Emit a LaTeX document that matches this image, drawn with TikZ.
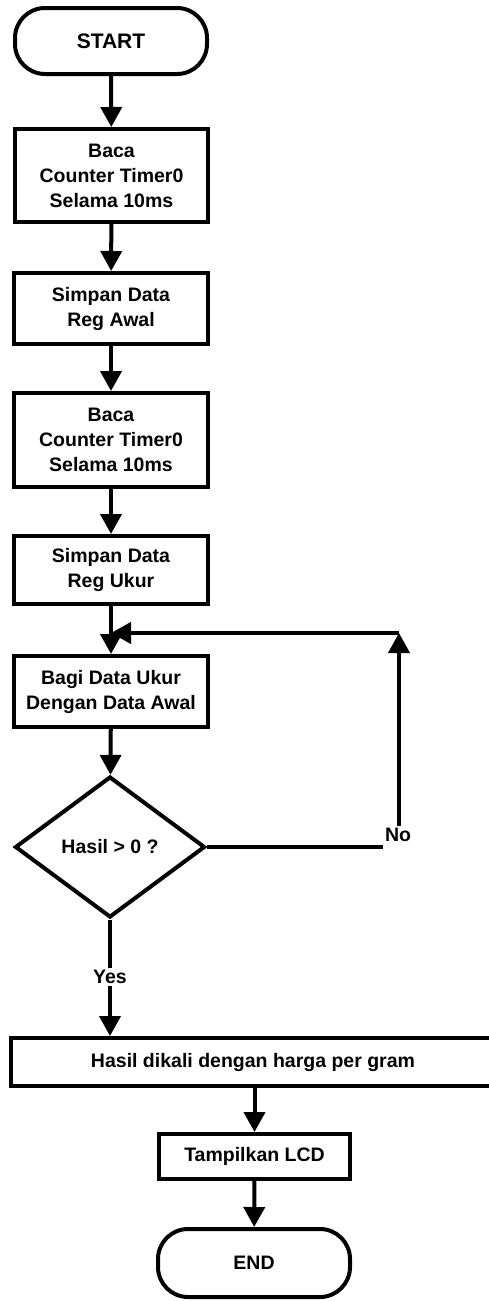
\documentclass[tikz,border=0pt]{standalone}
\usepackage{fontspec}
\setmainfont{Liberation Sans}
\usetikzlibrary{arrows.meta,shapes.geometric}
\begin{document}
\begin{tikzpicture}[x=1pt,y=-1pt,
  every node/.style={font=\fontsize{19.5}{25}\selectfont\bfseries, align=center, inner sep=0pt},
  box/.style={draw, line width=4pt, rectangle},
  term/.style={draw, line width=4pt, rectangle, rounded corners=30pt},
  dec/.style={draw, line width=4pt, diamond},
  lbl/.style={inner sep=2pt},
  flow/.style={line width=4pt, -{Triangle[length=20pt,width=21pt]}},
  plain/.style={line width=4pt}]
\useasboundingbox (0,0) rectangle (488,1301);
\node[term, minimum width=192pt, minimum height=66pt, font=\fontsize{21}{25}\selectfont\bfseries] (start) at (111,41) {START};
\node[box, minimum width=193pt, minimum height=93pt] (b1) at (111.5,175.5) {Baca\\Counter Timer0\\Selama 10ms};
\node[box, minimum width=194pt, minimum height=71pt] (b2) at (111,308.5) {Simpan Data\\Reg Awal};
\node[box, minimum width=194pt, minimum height=94pt] (b3) at (111,440) {Baca\\Counter Timer0\\Selama 10ms};
\node[box, minimum width=194pt, minimum height=68pt] (b4) at (111,570) {Simpan Data\\Reg Ukur};
\node[box, minimum width=194pt, minimum height=71pt] (b5) at (111,691.5) {Bagi Data Ukur\\Dengan Data Awal};
\node[dec, minimum width=190pt, minimum height=141pt] (d) at (110,847) {Hasil > 0 ?};
\node[lbl] (yes) at (110,977) {Yes};
\node[lbl] (no) at (398,835) {No};
\node[box, minimum width=484pt, minimum height=48pt] (b6) at (253,1062) {Hasil dikali dengan harga per gram};
\node[box, minimum width=191pt, minimum height=45pt] (b7) at (254.5,1156.5) {Tampilkan LCD};
\node[term, minimum width=192pt, minimum height=68pt] (end) at (254,1263) {END};
\coordinate (corner) at (399,633);
\coordinate (join) at (111,633);
\draw[flow] (start) -- (b1);
\draw[flow] (b1) -- (b2);
\draw[flow] (b2) -- (b3);
\draw[flow] (b3) -- (b4);
\draw[flow] (b4) -- (b5);
\draw[flow] (b5) -- (d);
\draw[plain] (d.south) -- (yes.north);
\draw[flow] (yes.south) -- (yes.south |- b6.north);
\draw[plain] (d.east) -- (no.west |- d.east);
\draw[flow] (no.north -| corner) -- (corner);
\draw[flow] (corner) -- (join);
\draw[flow] (b6.south -| b7.north) -- (b7.north);
\draw[flow] (b7) -- (end);
\end{tikzpicture}
\end{document}
